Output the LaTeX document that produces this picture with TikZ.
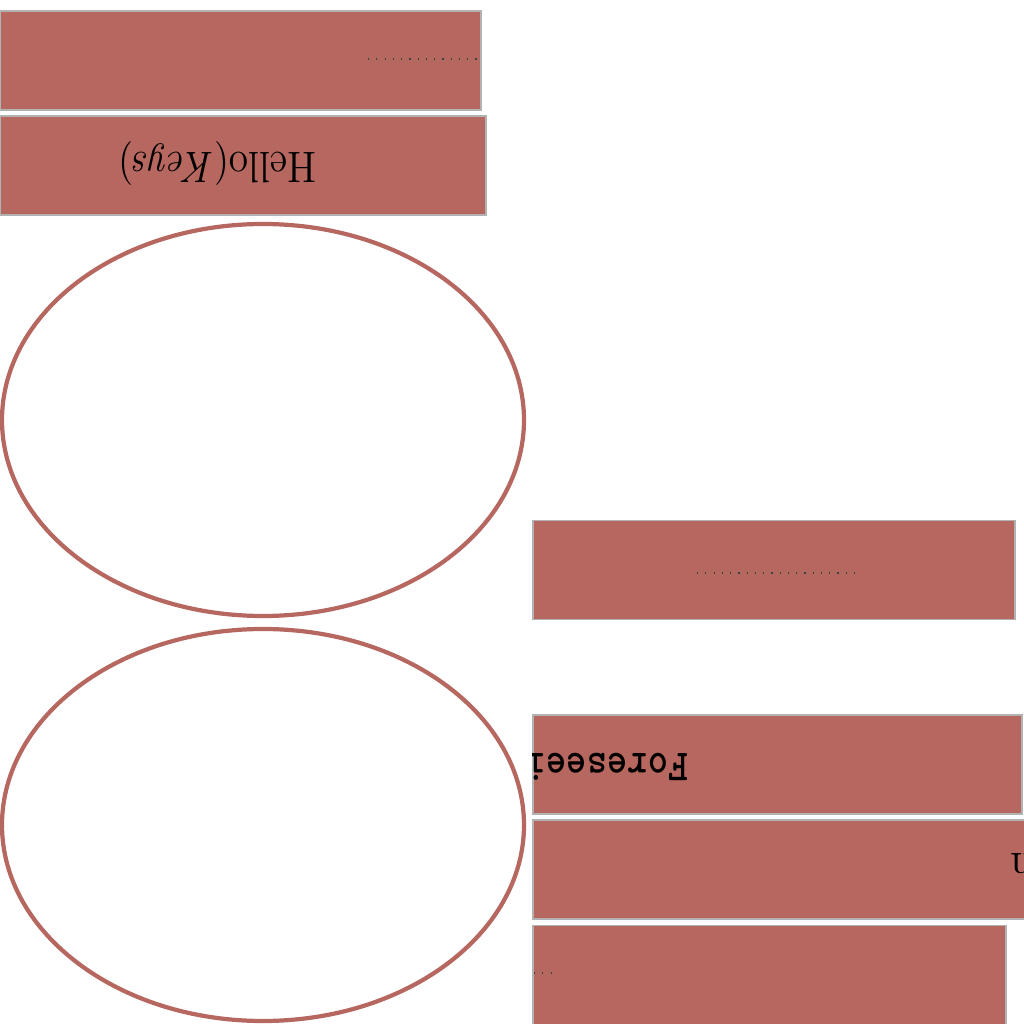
\documentclass[tikz,border=0pt]{standalone}
\usetikzlibrary{shapes.geometric}
\definecolor{brick}{RGB}{182,103,95}

\begin{document}
\begin{tikzpicture}[inner sep=0pt]
    \tikzstyle{slab}=[rectangle,draw=gray!60,line width=0.4pt,fill=brick]
    \tikzstyle{oval}=[ellipse,draw=brick,line width=1.2pt,minimum width=5.22cm,minimum height=3.92cm]
    \tikzstyle{flipped}=[rotate=180,text=black]
    \useasboundingbox (0,0) rectangle (10.24,10.24);

    \foreach \name/\x/\y/\w in {a/2.405/9.635/4.81, b/2.43/8.585/4.86, c/7.74/4.54/4.82,
                                d/7.775/2.595/4.89, e/7.815/1.545/4.97, f/7.695/0.49/4.73}
            \node[slab,minimum width=\w cm,minimum height=0.99cm] (S-\name) at (\x,\y) {};

        \foreach \name/\y in {top/6.04, bottom/1.99}
            \node[oval] (E-\name) at (2.63,\y) {};

        \node[flipped,xscale=0.9,font=\fontsize{12.5}{14}\selectfont] (hello) at (2.175,8.61) {Hello(\textit{Keys})};

        \begin{scope}
            \clip (S-d.south west) rectangle (S-d.north east);
            \node[flipped,anchor=west,yscale=1.15,font=\fontsize{11}{13}\selectfont\ttfamily\bfseries] (foresee) at (6.89,2.57) {Foreseei};
        \end{scope}
        \node[flipped,anchor=east,font=\fontsize{13}{15}\selectfont] (tail) at (10.10,1.60) {n};

        \draw[dotted,line width=0.35pt,black!75] (3.68,9.65) -- (4.77,9.65);
        \draw[dotted,line width=0.35pt,black!75] (6.97,4.51) -- (8.55,4.51);
        \draw[dotted,line width=0.35pt,black!75] (5.34,0.51) -- (5.52,0.51);
\end{tikzpicture}
\end{document}
